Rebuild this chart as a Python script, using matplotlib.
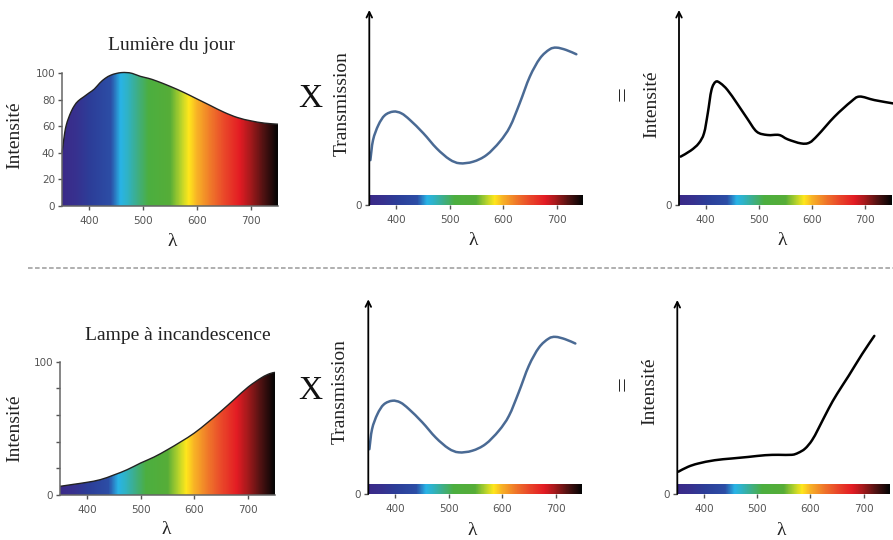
import numpy as np
import matplotlib
matplotlib.use("Agg")
import matplotlib.pyplot as plt
from matplotlib.colors import LinearSegmentedColormap
from matplotlib.patches import PathPatch
from matplotlib.path import Path
from matplotlib.lines import Line2D

W, H = 893, 540

# spectrum colour stops (nm)
stop_nm = [350, 375, 400, 440, 458, 470, 490, 510, 550, 570, 585, 600, 625, 650, 680, 700, 725, 750]
stop_col = ['#3b2a88', '#37318f', '#2d3d98', '#2c4ea6', '#29b4e6', '#2fb3c8', '#3fae84', '#4caf40', '#56ad38',
            '#b5d22c', '#ffe71c', '#f8b326', '#f07a2a', '#ea4a2a', '#e31c24', '#a51a1c', '#4e1212', '#050505']

# daylight spectrum
day_nm = [350, 352, 355, 358, 362, 367, 373, 380, 390, 400, 410, 420, 430, 440, 450, 460, 470, 480, 495,
          510, 525, 550, 575, 600, 625, 650, 675, 700, 725, 750]
day_val = [40, 46, 55, 61, 66, 71, 75.5, 79, 82, 85, 88, 92.5, 96, 98.3, 99.6, 100.3, 100.3, 99.7, 97.5,
           96, 94, 90, 85.5, 80.5, 75.5, 70.5, 66.5, 64, 62.3, 61.5]

# incandescent lamp spectrum
lamp_nm = [350, 375, 400, 425, 450, 475, 500, 525, 550, 575, 600, 625, 650, 675, 700, 725, 740, 750]
lamp_val = [6.5, 8, 9.5, 11.5, 15, 19, 24, 28.5, 34, 40, 46.5, 54.5, 63, 72, 81, 88, 91, 92]

# filter transmission
tr_nm = [352, 357, 367, 379, 395, 410, 426, 451, 476, 500, 519, 544, 569, 594, 613, 631, 650, 669, 687,
         700, 718, 737]
tr_val = [23, 33.3, 41, 46, 47.9, 47, 43.6, 36.8, 29, 23.4, 21.4, 22.2, 25.6, 32.5, 40.2, 52.1, 65.8, 75.2,
          79.8, 80.7, 79.5, 77.3]

# resulting intensity, daylight
res1_nm = [353, 372, 387, 397, 404, 411, 419, 428, 441, 459, 478, 496, 516, 538, 554, 579, 595, 611, 642,
           673, 689, 717, 752]
res1_val = [24.8, 27.9, 31.6, 36.8, 47, 59, 63.2, 62.4, 59, 52.1, 44.4, 37.6, 35.9, 35.9, 33.7, 31.6, 32,
            35.9, 45.3, 53, 55.6, 53.8, 52.1]

# resulting intensity, lamp
res2_nm = [352, 370, 389, 420, 452, 483, 515, 540, 565, 577, 590, 603, 615, 634, 650, 672, 697, 720]
res2_val = [11.5, 14, 15.7, 17.4, 18.3, 19.1, 20, 20.2, 20.2, 21.2, 23.4, 27.7, 33.7, 43.9, 51.6, 61, 72.1, 81.5]

xticks = [400, 500, 600, 700]

cmap = LinearSegmentedColormap.from_list(
    'spec', [((n - 350) / 400, c) for n, c in zip(stop_nm, stop_col)])
grad = np.linspace(0, 1, 400).reshape(1, -1)

serif = 'Liberation Serif'
tick_col = '#555555'

fig = plt.figure(figsize=(W / 100, H / 100), dpi=100)


def smooth_path(nm, val, close=False):
    # bezier segments through the read points (catmull-rom control points)
    p = np.column_stack([nm, val]).astype(float)
    ext = np.vstack([p[0], p, p[-1]])
    verts = [tuple(p[0])]
    codes = [Path.MOVETO]
    for i in range(len(p) - 1):
        a, b, c, d = ext[i], ext[i + 1], ext[i + 2], ext[i + 3]
        verts += [tuple(b + (c - a) / 6), tuple(c - (d - b) / 6), tuple(c)]
        codes += [Path.CURVE4] * 3
    if close:
        verts += [(750, 0), (350, 0), (350, 0)]
        codes += [Path.LINETO, Path.LINETO, Path.CLOSEPOLY]
    return Path(verts, codes)


def px_axes(x0, x1, ytop, ybot):
    return fig.add_axes([x0 / W, 1 - ybot / H, (x1 - x0) / W, (ybot - ytop) / H])


def style_ticks(ax):
    ax.set_xlim(350, 750)
    ax.set_ylim(0, 100)
    ax.set_xticks(xticks)
    ax.tick_params(axis='both', colors=tick_col, labelsize=7.5, length=3, width=1, pad=2)
    ax.tick_params(axis='x', pad=4)


def spectrum_panel(x0, x1, ytop, ybot, nm, val, ylabels, title, title_xy, ylab_xy, lam_xy):
    ax = px_axes(x0, x1, ytop, ybot)
    im = ax.imshow(grad, extent=[350, 750, 0, 100], aspect='auto', cmap=cmap, origin='lower')
    patch = PathPatch(smooth_path(nm, val, close=True), facecolor='none', edgecolor='none')
    ax.add_patch(patch)
    im.set_clip_path(patch)
    ax.add_patch(PathPatch(smooth_path(nm, val), facecolor='none', edgecolor='#222222', lw=1.0,
                           clip_on=False))
    ax.plot([750, 750], [0, val[-1]], color='#222222', lw=0.8)
    style_ticks(ax)
    ax.set_yticks([0, 20, 40, 60, 80, 100])
    ax.set_yticklabels(ylabels)
    for s in ['top', 'right']:
        ax.spines[s].set_visible(False)
    for s in ['left', 'bottom']:
        ax.spines[s].set_color('#666666')
        ax.spines[s].set_linewidth(1.1)
    fig.text(title_xy[0] / W, 1 - title_xy[1] / H, title, family=serif, fontsize=14,
             ha='center', va='center', color='#222222')
    ax.text(*ylab_xy, 'Intensité', transform=ax.transAxes, rotation=90, family=serif,
            fontsize=14, ha='center', va='center', color='#222222')
    ax.text(*lam_xy, 'λ', transform=ax.transAxes, family=serif, fontsize=14,
            ha='center', va='center', color='#222222')
    return ax


def line_panel(x0, x1, ytop, ybot, nm, val, color, ylabel, ylab_xy, lam_xy):
    ax = px_axes(x0, x1, ytop, ybot)
    ax.imshow(grad, extent=[350, 750, 0, 5.1], aspect='auto', cmap=cmap, origin='lower')
    ax.add_patch(PathPatch(smooth_path(nm, val), facecolor='none', edgecolor=color, lw=1.8,
                           clip_on=False, capstyle='round'))
    style_ticks(ax)
    ax.set_yticks([0])
    for s in ax.spines.values():
        s.set_visible(False)
    ax.annotate('', xy=(350, 100), xytext=(350, 0), annotation_clip=False,
                arrowprops=dict(arrowstyle='->', lw=1.3, color='black', shrinkA=0, shrinkB=0,
                                mutation_scale=10))
    ax.text(*ylab_xy, ylabel, transform=ax.transAxes, rotation=90, family=serif,
            fontsize=14, ha='center', va='center', color='#222222')
    ax.text(*lam_xy, 'λ', transform=ax.transAxes, family=serif, fontsize=14,
            ha='center', va='center', color='#222222')
    return ax


# top row: daylight
spectrum_panel(62, 278, 73, 206, day_nm, day_val, ['0', '20', '40', '60', '80', '100'],
               'Lumière du jour', (172, 45), (-0.218, 0.534), (0.509, -0.27))
line_panel(369.3, 583.3, 10, 205, tr_nm, tr_val, '#4a6a94', 'Transmission', (-0.129, 0.52), (0.486, -0.18))
line_panel(679, 892, 10, 205, res1_nm, res1_val, 'black', 'Intensité', (-0.128, 0.518), (0.487, -0.18))

# bottom row: incandescent lamp
spectrum_panel(60, 275, 361.7, 495, lamp_nm, lamp_val, ['0', '', '', '', '', '100'],
               'Lampe à incandescence', (178, 336), (-0.21, 0.5), (0.496, -0.26))
line_panel(368.3, 582.3, 299.3, 494, tr_nm, tr_val, '#4a6a94', 'Transmission', (-0.13, 0.526), (0.484, -0.185))
line_panel(677.3, 890.3, 300, 494, res2_nm, res2_val, 'black', 'Intensité', (-0.128, 0.528), (0.488, -0.186))

# operators
for y in [99, 391]:
    fig.text(310 / W, 1 - y / H, 'X', family=serif, fontsize=24, ha='center', va='center', color='#111111')
for y in [94, 384]:
    fig.text(624 / W, 1 - y / H, '=', family=serif, fontsize=19, ha='center', va='center',
             rotation=90, color='#222222')

# separator
fig.add_artist(Line2D([28 / W, 1.0], [1 - 268 / H] * 2, transform=fig.transFigure,
                      color='#9a9a9a', lw=1.1, ls=(0, (3, 1.6))))

fig.savefig('out.png', dpi=100)
